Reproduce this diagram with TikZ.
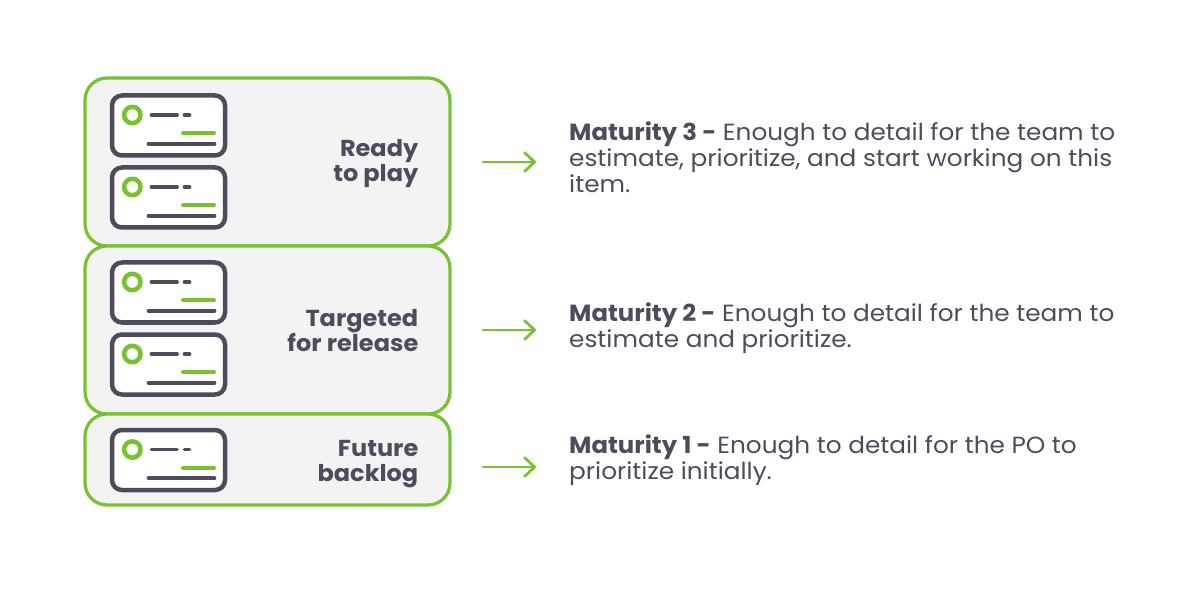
\documentclass[tikz,border=0pt]{standalone}
\usepackage{fontspec}
\setmainfont{Poppins}[FakeStretch=1.058,BoldFeatures={FakeStretch=1.04}]
\definecolor{lime}{HTML}{76C22F}
\definecolor{ink}{HTML}{4F4A5C}
\definecolor{panel}{HTML}{F3F3F3}
\newcommand{\bodyfont}{\fontsize{23.4}{26}\selectfont}
\newcommand{\labelfont}{\fontsize{23.1}{26}\selectfont}
\tikzset{
  x=1pt,y=-1pt,
  panelbox/.style={draw=lime,fill=panel,line width=3.2pt,rounded corners=22pt},
  cardbox/.style={draw=ink,fill=white,line width=4.5pt,rounded corners=10pt},
  darkbar/.style={draw=ink,line width=3.8pt,line cap=round},
  greenbar/.style={draw=lime,line width=3.8pt,line cap=round},
  flowarrow/.style={draw=lime,line width=2.7pt,line cap=round,line join=round},
  panellabel/.style={anchor=base east,align=right,text=ink,inner sep=0pt},
  desc/.style={anchor=base west,text=ink,inner sep=0pt},
  pics/card/.style={code={
    \draw[cardbox] (0,0) rectangle (113,60);
    \draw[draw=lime,line width=4.5pt] (20.3,19.5) circle (8.2);
    \draw[darkbar] (39.5,19.5) -- (65,19.5);
    \draw[darkbar] (72.5,19.5) -- (77.5,19.5);
    \draw[greenbar] (71,37.8) -- (102,37.8);
    \draw[darkbar] (36.5,48.2) -- (102.5,48.2);
  }}
}
\begin{document}
\begin{tikzpicture}
\useasboundingbox (0,0) rectangle (1201,601);
\draw[panelbox] (85,78) rectangle (450,246);
\draw[panelbox] (85,246) rectangle (450,414);
\draw[panelbox] (85,414) rectangle (450,505);
\pic at (112,95.5) {card};
\pic at (112,167.5) {card};
\pic at (112,262.5) {card};
\pic at (112,334.5) {card};
\pic at (112,430) {card};
\node[panellabel,font=\bfseries\labelfont] (l3a) at (418.5,156.7) {Ready};
\node[panellabel,font=\bfseries\labelfont] (l3b) at (418.5,181.7) {to play};
\node[panellabel,font=\bfseries\labelfont] (l2a) at (418.5,326.5) {Targeted};
\node[panellabel,font=\bfseries\labelfont] (l2b) at (418.5,351.5) {for release};
\node[panellabel,font=\bfseries\labelfont] (l1a) at (418.5,456) {Future};
\node[panellabel,font=\bfseries\labelfont] (l1b) at (418.5,481.5) {backlog};
\node[desc,font=\bodyfont] (d3a) at (569,141) {\textbf{Maturity 3 -} Enough to detail for the team to};
\node[desc,font=\bodyfont] (d3b) at (569,167) {estimate, prioritize, and start working on this};
\node[desc,font=\bodyfont] (d3c) at (569,193) {item.};
\node[desc,font=\bodyfont] (d2a) at (569,321) {\textbf{Maturity 2 -} Enough to detail for the team to};
\node[desc,font=\bodyfont] (d2b) at (569,347) {estimate and prioritize.};
\node[desc,font=\bodyfont] (d1a) at (569,453) {\textbf{Maturity 1 -} Enough to detail for the PO to};
\node[desc,font=\bodyfont] (d1b) at (569,479) {prioritize initially.};
\foreach \n/\y in {a/162,b/330,c/467}{
  \coordinate (s\n) at (483,\y);
  \coordinate (e\n) at (534.5,\y);
  \draw[flowarrow] (s\n) -- (e\n);
  \draw[flowarrow] ([shift={(-10,-9.5)}]e\n) -- (e\n) -- ([shift={(-10,9.5)}]e\n);
}
\end{tikzpicture}
\end{document}
